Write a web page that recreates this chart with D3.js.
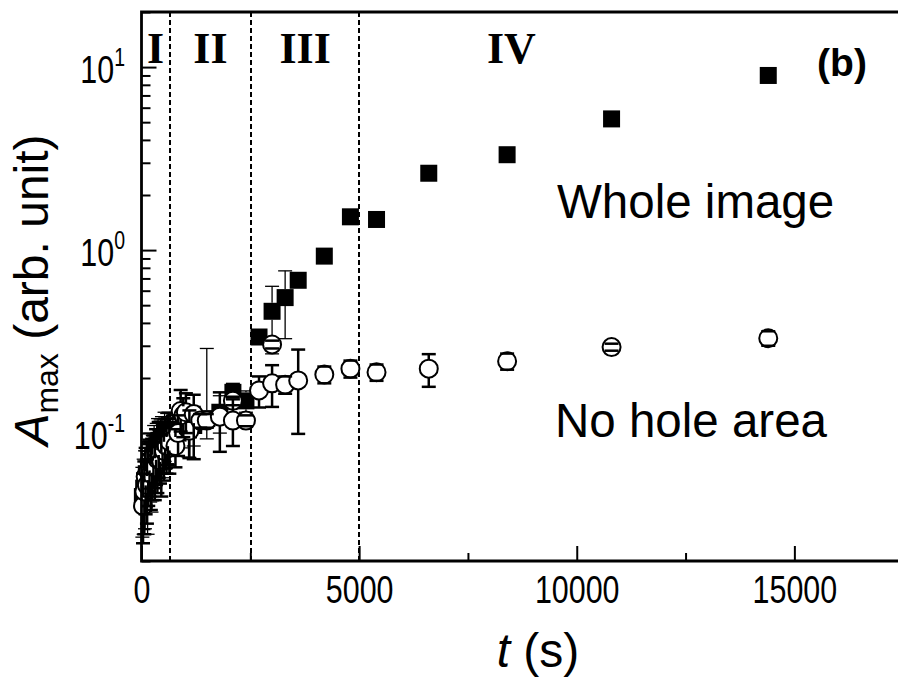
<!DOCTYPE html>
<html>
<head>
<meta charset="utf-8">
<script src="https://cdn.jsdelivr.net/npm/d3@7"></script>
<style>
  body { margin: 0; background: #fff; }
  svg { display: block; }
</style>
</head>
<body>
<svg id="chart"></svg>
<script>
// Whole image (filled squares)
const wholeT  = [20, 50, 80, 110, 140, 170, 200, 230, 260, 290, 320, 350, 380, 410, 440, 470, 500, 530, 560, 590, 620,
                 720, 840, 960, 1080, 1200, 1500, 1800, 2100, 2400, 2700, 3000, 3300, 3600, 4200, 4800, 5400, 6600, 8400, 10800, 14400];
const wholeA  = [0.045, 0.05, 0.055, 0.06, 0.052, 0.065, 0.07, 0.062, 0.075, 0.08, 0.072, 0.085, 0.09, 0.078, 0.088, 0.095, 0.082, 0.1, 0.092, 0.098, 0.105,
                 0.095, 0.1, 0.108, 0.104, 0.11, 0.12, 0.13, 0.167, 0.15, 0.335, 0.463, 0.55, 0.684, 0.927, 1.52, 1.47, 2.63, 3.32, 5.21, 9.0];
const wholeUp = [0.02, 0.022, 0.025, 0.02, 0.028, 0.022, 0.03, 0.025, 0.022, 0.03, 0.025, 0.028, 0.03, 0.025, 0.03, 0.028, 0.025, 0.03, 0.028, 0.03, 0.025,
                 0.03, 0.03, 0.035, 0.03, 0.03, 0.17, 0.03, 0.02, 0.02, 0.02, 0.171, 0.22, 0.03, 0.03, 0.1, 0.05, 0.1, 0.1, 0.15, 0.2];
const wholeDn = [0.018, 0.022, 0.025, 0.02, 0.024, 0.022, 0.028, 0.025, 0.022, 0.028, 0.025, 0.028, 0.03, 0.025, 0.028, 0.028, 0.025, 0.03, 0.028, 0.03, 0.025,
                 0.02, 0.025, 0.025, 0.03, 0.025, 0.027, 0.03, 0.02, 0.02, 0.02, 0.192, 0.222, 0.03, 0.03, 0.1, 0.05, 0.1, 0.1, 0.15, 0.2];

// No hole area (open circles)
const noholeT  = [35, 65, 95, 125, 155, 185, 215, 245, 275, 305, 335, 365, 395, 425, 455, 485, 515, 545, 575, 605, 640,
                  780, 840, 900, 960, 1020, 1100, 1200, 1350, 1500, 1800, 2100, 2100, 2400, 2700, 3000, 3000, 3300, 3600, 4200, 4800, 5400, 6600, 8400, 10800, 14400];
const noholeA  = [0.04, 0.048, 0.058, 0.052, 0.062, 0.07, 0.06, 0.068, 0.075, 0.065, 0.08, 0.072, 0.085, 0.078, 0.07, 0.088, 0.08, 0.092, 0.085, 0.095, 0.09,
                  0.085, 0.1, 0.132, 0.125, 0.13, 0.103, 0.127, 0.117, 0.117, 0.123, 0.117, 0.15, 0.117, 0.171, 0.187, 0.305, 0.184, 0.194, 0.209, 0.225, 0.215, 0.225, 0.247, 0.295, 0.33];
const noholeUp = [0.02, 0.022, 0.025, 0.02, 0.025, 0.022, 0.028, 0.025, 0.022, 0.028, 0.025, 0.028, 0.03, 0.025, 0.028, 0.025, 0.03, 0.028, 0.03, 0.025, 0.03,
                  0.02, 0.025, 0.04, 0.03, 0.035, 0.03, 0.035, 0.01, 0.01, 0.044, 0.036, 0.008, 0.008, 0.033, 0.048, 0.015, 0.02, 0.092, 0.022, 0.024, 0.022, 0.045, 0.025, 0.013, 0.03];
const noholeDn = [0.015, 0.02, 0.022, 0.02, 0.022, 0.025, 0.022, 0.025, 0.025, 0.022, 0.028, 0.025, 0.028, 0.025, 0.025, 0.028, 0.025, 0.028, 0.025, 0.028, 0.03,
                  0.02, 0.025, 0.03, 0.03, 0.03, 0.03, 0.055, 0.01, 0.01, 0.044, 0.032, 0.008, 0.008, 0.033, 0.048, 0.015, 0.02, 0.095, 0.022, 0.024, 0.022, 0.046, 0.025, 0.013, 0.03];

// regions
const regionBounds = [650, 2520, 5000];
const regionLabels = ["I", "II", "III", "IV"];

// axis ticks
const xMajor = [0, 5000, 10000, 15000];
const xMinor = [2500, 7500, 12500, 17500];
const yMajor = [0.1, 1, 10];
const yExp   = ["-1", "0", "1"];

const width = 898, height = 683;
const svg = d3.select("#chart").attr("width", width).attr("height", height);

const plotLeft = 141.5, plotTop = 12, plotBottom = 561;
const x = d3.scaleLinear().domain([0, 17500]).range([plotLeft, plotLeft + 17500 * 0.043525]);
const y = d3.scaleLog().domain([0.02, 20]).range([plotBottom, plotTop]);

const yMinor = [];
[0.01, 0.1, 1, 10].forEach(d => { for (let k = 2; k <= 9; k++) { const v = d * k; if (v >= 0.02 && v <= 20) yMinor.push(v); } });

// region dashed lines
svg.selectAll("line.region")
  .data(regionBounds)
  .enter().append("line")
  .attr("x1", d => Math.round(x(d))).attr("x2", d => Math.round(x(d)))
  .attr("y1", plotTop).attr("y2", plotBottom)
  .attr("stroke", "#000").attr("stroke-width", 2)
  .attr("stroke-dasharray", "5,3");

// region labels (centred in each region)
const regionEdges = [0, ...regionBounds, 12000];
svg.selectAll("text.region")
  .data(regionLabels)
  .enter().append("text")
  .attr("x", (d, i) => x((regionEdges[i] + regionEdges[i + 1]) / 2))
  .attr("y", 63)
  .attr("text-anchor", "middle")
  .attr("font-family", "'Liberation Serif', 'Times New Roman', serif")
  .attr("font-weight", "bold")
  .attr("font-size", 44)
  .text(d => d);

const wholeData = wholeT.map((t, i) => ({t, a: wholeA[i], up: wholeUp[i], dn: wholeDn[i]}));
const noholeData = noholeT.map((t, i) => ({t, a: noholeA[i], up: noholeUp[i], dn: noholeDn[i]}));

function errorBars(data, half, capW, sw) {
  const g = svg.append("g").attr("stroke", "#000").attr("stroke-width", sw);
  data.forEach(d => {
    const cx = x(d.t), cy = y(d.a);
    const yHi = y(d.a + d.up), yLo = y(d.a - d.dn);
    if (yHi < cy - half) g.append("line").attr("x1", cx).attr("x2", cx).attr("y1", yHi).attr("y2", cy - half);
    if (yLo > cy + half) g.append("line").attr("x1", cx).attr("x2", cx).attr("y1", cy + half).attr("y2", yLo);
    g.append("line").attr("x1", cx - capW / 2).attr("x2", cx + capW / 2).attr("y1", yHi).attr("y2", yHi);
    g.append("line").attr("x1", cx - capW / 2).attr("x2", cx + capW / 2).attr("y1", yLo).attr("y2", yLo);
  });
}

// squares
const sq = 17;
svg.append("g").selectAll("rect")
  .data(wholeData)
  .enter().append("rect")
  .attr("x", d => x(d.t) - sq / 2)
  .attr("y", d => y(d.a) - sq / 2)
  .attr("width", sq).attr("height", sq)
  .attr("fill", "#000");
errorBars(wholeData, sq / 2, 14, 1.3);

// circles
const r = 9;
svg.append("g").selectAll("circle")
  .data(noholeData)
  .enter().append("circle")
  .attr("cx", d => x(d.t))
  .attr("cy", d => y(d.a))
  .attr("r", r)
  .attr("fill", "#fff")
  .attr("stroke", "#000")
  .attr("stroke-width", 2);
errorBars(noholeData, r, 14, 2.5);

// axes
const font = "'Liberation Sans', Arial, sans-serif";
const narrow = "scale(0.78,1)";

const xAxis = svg.append("g").attr("transform", `translate(0,${plotBottom})`)
  .call(d3.axisBottom(x).tickValues(xMajor).tickSize(-15).tickPadding(14).tickFormat(d3.format("d")));
xAxis.append("g").call(d3.axisBottom(x).tickValues(xMinor).tickSize(-8).tickFormat(""));
xAxis.selectAll(".domain").remove();
xAxis.selectAll("line").attr("stroke-width", 2);
xAxis.selectAll("text").attr("font-family", font).attr("font-size", 39).attr("fill", "#000")
  .attr("transform", narrow);

const yAxis = svg.append("g").attr("transform", `translate(${plotLeft},0)`)
  .call(d3.axisLeft(y).tickValues(yMajor).tickSize(-15).tickFormat(""));
yAxis.append("g").call(d3.axisLeft(y).tickValues(yMinor).tickSize(-9).tickFormat(""));
yAxis.selectAll(".domain").remove();
yAxis.selectAll("line").attr("stroke-width", 2);

// y tick labels with superscripts
const yl = svg.append("g").attr("font-family", font).attr("fill", "#000");
yMajor.forEach((v, i) => {
  const t = yl.append("g").attr("transform", `translate(125,${y(v) + 16}) ${narrow}`)
    .append("text").attr("text-anchor", "end").attr("font-size", 39);
  t.append("tspan").text("10");
  t.append("tspan").attr("font-size", 25).attr("dy", -17).text(yExp[i]);
});

// frame: left, bottom, top
svg.append("path")
  .attr("d", `M${width},${plotTop}H${plotLeft}V${plotBottom}H${width}`)
  .attr("fill", "none").attr("stroke", "#000").attr("stroke-width", 2.8);

// axis titles
const xTitle = svg.append("text").attr("x", 538).attr("y", 667).attr("text-anchor", "middle")
  .attr("font-family", font).attr("font-size", 48);
xTitle.append("tspan").attr("font-style", "italic").text("t");
xTitle.append("tspan").text(" (s)");

const yTitle = svg.append("text").attr("transform", "translate(48,290) rotate(-90)").attr("text-anchor", "middle")
  .attr("font-family", font).attr("font-size", 48);
yTitle.append("tspan").attr("font-style", "italic").text("A");
yTitle.append("tspan").attr("font-size", 32).attr("dy", 10).text("max");
yTitle.append("tspan").attr("dy", -10).text(" (arb. unit)");

// annotations
svg.append("text").attr("x", 842).attr("y", 76).attr("text-anchor", "middle")
  .attr("font-family", font).attr("font-weight", "bold").attr("font-size", 39).text("(b)");
svg.append("text").attr("x", 557).attr("y", 218)
  .attr("font-family", font).attr("font-size", 47.5).text("Whole image");
svg.append("text").attr("x", 555).attr("y", 437)
  .attr("font-family", font).attr("font-size", 47.5).text("No hole area");
</script>
</body>
</html>
